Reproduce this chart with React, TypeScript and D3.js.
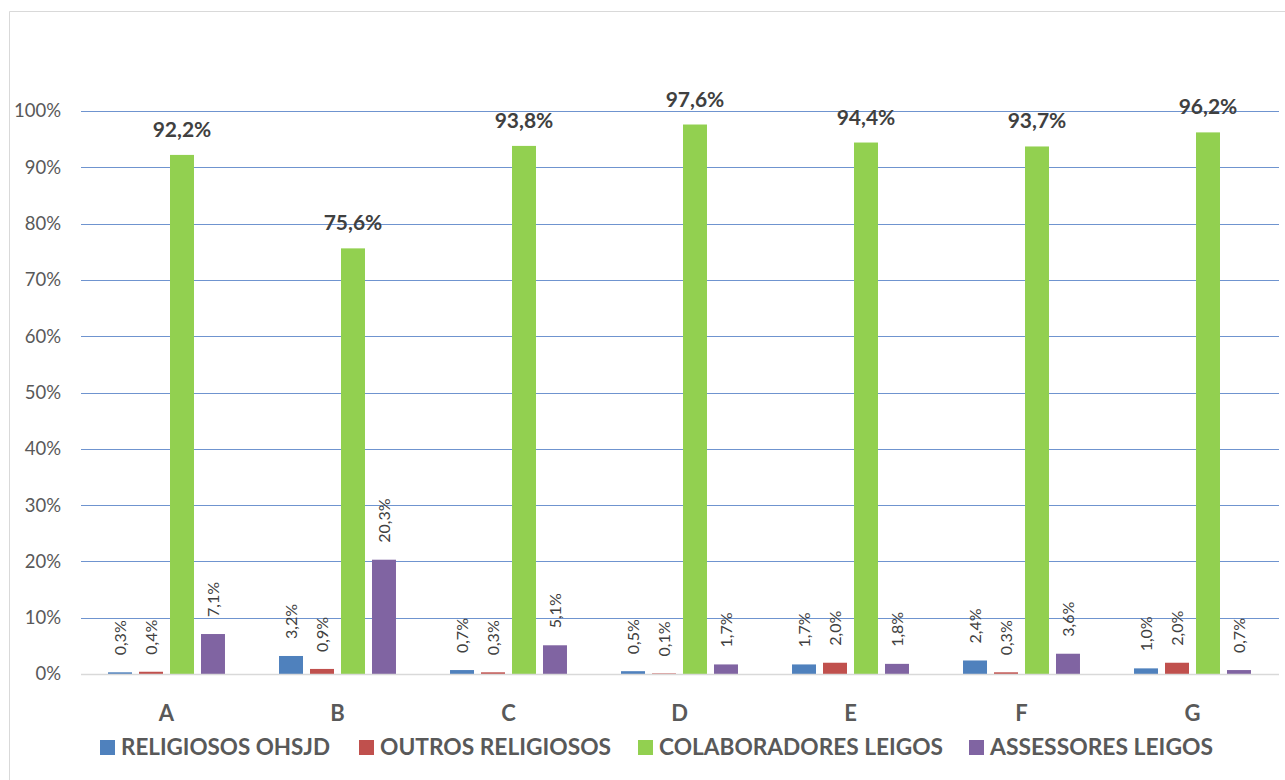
import React from "react";
import * as d3 from "d3";

const categories = ["A", "B", "C", "D", "E", "F", "G"];
const seriesNames = ["RELIGIOSOS OHSJD", "OUTROS RELIGIOSOS", "COLABORADORES LEIGOS", "ASSESSORES LEIGOS"];
const religiososOhsjd = [0.3, 3.2, 0.7, 0.5, 1.7, 2.4, 1.0];
const outrosReligiosos = [0.4, 0.9, 0.3, 0.1, 2.0, 0.3, 2.0];
const colaboradoresLeigos = [92.2, 75.6, 93.8, 97.6, 94.4, 93.7, 96.2];
const assessoresLeigos = [7.1, 20.3, 5.1, 1.7, 1.8, 3.6, 0.7];
const yTicks = [0, 10, 20, 30, 40, 50, 60, 70, 80, 90, 100];
const colors = ["#4F81BD", "#C0504D", "#92D050", "#8064A2"];

const seriesValues = [religiososOhsjd, outrosReligiosos, colaboradoresLeigos, assessoresLeigos];

const W = 1285;
const H = 780;
const FONT = "Lato, 'Open Sans', sans-serif";

const fmt = (v: number) => v.toFixed(1).replace(".", ",") + "%";

export default function App() {
  const left = 81;
  const right = 1278;
  const top = 111;
  const bottom = 674;

  const y = d3.scaleLinear().domain([0, 100]).range([bottom, top]);
  const x0 = d3.scaleBand<string>().domain(categories).range([left, right]).paddingInner(0.316).paddingOuter(0.158);
  const x1 = d3.scaleBand<string>().domain(seriesNames).range([0, x0.bandwidth()]).paddingInner(0.226).paddingOuter(0);

  const legendItems = [
    { x: 100, w: 209, name: seriesNames[0], color: colors[0] },
    { x: 359, w: 231, name: seriesNames[1], color: colors[1] },
    { x: 638, w: 284, name: seriesNames[2], color: colors[2] },
    { x: 969, w: 223, name: seriesNames[3], color: colors[3] },
  ];

  return (
    <svg width={W} height={H} style={{ position: "absolute", left: 0, top: 0 }} fontFamily={FONT}>
      <rect x={0} y={0} width={W} height={H} fill="#ffffff" />
      <path d={`M9.5,${H} V11.5 H${W}`} fill="none" stroke="#d9d9d9" strokeWidth={1} />
      {yTicks.map((t) => (
        <g key={t}>
          {t > 0 && (
            <line x1={left} x2={1279} y1={Math.round(y(t)) + 0.5} y2={Math.round(y(t)) + 0.5} stroke="#6F94CF" strokeWidth={1} />
          )}
          <text x={61} y={y(t)} dy="0.35em" textAnchor="end" fontSize={18.5} fill="#595959">
            {t}%
          </text>
        </g>
      ))}
      {categories.map((c, ci) => (
        <g key={c} transform={`translate(${x0(c)},0)`}>
          {seriesNames.map((s, si) => {
            const v = seriesValues[si][ci];
            const bx = x1(s)!;
            const bw = x1.bandwidth();
            const yt = y(v);
            return (
              <g key={s}>
                <rect x={bx} y={yt} width={bw} height={bottom - yt} fill={colors[si]} />
                {si === 2 ? (
                  <text x={bx + bw / 2} y={yt - 18} textAnchor="middle" fontSize={21} fontWeight="bold" fill="#404040">
                    {fmt(v)}
                  </text>
                ) : (
                  <text
                    transform={`translate(${bx + bw / 2},${yt - 17}) rotate(-90)`}
                    dy="0.35em"
                    textAnchor="start"
                    fontSize={16}
                    fill="#404040"
                  >
                    {fmt(v)}
                  </text>
                )}
              </g>
            );
          })}
          <text x={x0.bandwidth() / 2} y={721} textAnchor="middle" fontSize={22} fontWeight="bold" fill="#595959">
            {c}
          </text>
        </g>
      ))}
      <line x1={left} x2={1279} y1={bottom + 0.5} y2={bottom + 0.5} stroke="#d9d9d9" strokeWidth={1.5} />
      {legendItems.map((it) => (
        <g key={it.name}>
          <rect x={it.x} y={740} width={15} height={15} fill={it.color} />
          <text
            x={it.x + 21}
            y={755}
            fontSize={22.5}
            fontWeight="bold"
            fill="#595959"
            textLength={it.w}
            lengthAdjust="spacingAndGlyphs"
          >
            {it.name}
          </text>
        </g>
      ))}
    </svg>
  );
}
